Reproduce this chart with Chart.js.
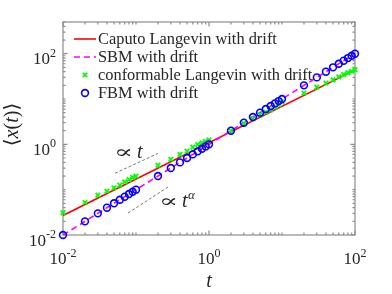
<!DOCTYPE html>
<html>
<head>
<meta charset="utf-8">
<script src="https://cdn.jsdelivr.net/npm/chart.js@4/dist/chart.umd.min.js"></script>
<style>
  html, body { margin: 0; padding: 0; background: #fff; }
</style>
</head>
<body>
<canvas id="chart" width="392" height="294"></canvas>
<script>
// values
const times = [0.01, 0.02, 0.03, 0.04, 0.05, 0.06, 0.07, 0.08, 0.09,
               0.1, 0.2, 0.3, 0.4, 0.5, 0.6, 0.7, 0.8, 0.9,
               1, 2, 3, 4, 5, 6, 7, 8, 9,
               10, 20, 30, 40, 50, 60, 70, 80, 90, 100];
const fbm = [0.01, 0.02, 0.03, 0.04, 0.05, 0.06, 0.07, 0.08, 0.09,
             0.1, 0.2, 0.3, 0.4, 0.5, 0.6, 0.7, 0.8, 0.9,
             1, 2, 3, 4, 5, 6, 7, 8, 9,
             10, 20, 30, 40, 50, 60, 70, 80, 90, 100];
const conformable = [0.031, 0.052, 0.076, 0.093, 0.110, 0.126, 0.148, 0.166, 0.186,
                     0.20, 0.347, 0.468, 0.603, 0.708, 0.87, 0.98, 1.07, 1.16,
                     1.25, 2.0, 2.9, 3.7, 4.5, 5.1, 5.8, 6.6, 7.4,
                     8.5, 13.5, 18.2, 22.4, 26.3, 30.9, 34.7, 38.0, 40.7, 44.7];
const caputoT = [0.01, 100];
const caputo = [0.027, 44];
const sbmT = [0.01, 100];
const sbm = [0.01, 100];
// short dashed guide lines
const guideUpperT = [0.0515, 0.2];
const guideUpper = [0.23, 0.63];
const guideLowerT = [0.0776, 0.274];
const guideLower = [0.0305, 0.114];

const labels = ['Caputo Langevin with drift', 'SBM with drift',
                'conformable Langevin with drift', 'FBM with drift'];
const xTicks = [0.01, 1, 100];
const xTickExp = ['-2', '0', '2'];
const yTicks = [0.01, 1, 100];
const yTickExp = ['-2', '0', '2'];

const pts = (xs, ys) => xs.map((v, i) => ({ x: v, y: ys[i] }));
const serif = '"Liberation Serif", "DejaVu Serif", serif';
const textColor = '#262626';

const frame = {
  id: 'frame',
  beforeDatasetsDraw(chart) {
    const { ctx, chartArea: a, scales: { x, y } } = chart;
    ctx.save();
    ctx.strokeStyle = '#8c8c8c';
    ctx.lineWidth = 1.2;
    ctx.strokeRect(a.left, a.top, a.right - a.left, a.bottom - a.top);
    ctx.beginPath();
    for (let e = -2; e <= 2; e++) {
      for (let m = 1; m < 10; m++) {
        const v = m * Math.pow(10, e);
        const len = (m === 1 && e % 2 === 0) ? 4.5 : 2.5;
        if (v <= 100) {
          const px = x.getPixelForValue(v);
          ctx.moveTo(px, a.bottom); ctx.lineTo(px, a.bottom - len);
          ctx.moveTo(px, a.top); ctx.lineTo(px, a.top + len);
        }
        if (v <= 500) {
          const py = y.getPixelForValue(v);
          ctx.moveTo(a.left, py); ctx.lineTo(a.left + len, py);
          ctx.moveTo(a.right, py); ctx.lineTo(a.right - len, py);
        }
      }
    }
    ctx.stroke();
    ctx.restore();
  },
  afterDraw(chart) {
    const { ctx, chartArea: a, scales: { x, y } } = chart;
    ctx.save();
    ctx.fillStyle = textColor;
    ctx.textBaseline = 'alphabetic';
    const base = '17px ' + serif, sup = '12px ' + serif;

    // tick labels 10^n
    xTicks.forEach((v, i) => {
      ctx.font = base; const bw = ctx.measureText('10').width;
      ctx.font = sup; const sw = ctx.measureText(xTickExp[i]).width;
      const x0 = x.getPixelForValue(v) - (bw + sw) / 2;
      ctx.font = base; ctx.fillText('10', x0, a.bottom + 29);
      ctx.font = sup; ctx.fillText(xTickExp[i], x0 + bw, a.bottom + 22);
    });
    yTicks.forEach((v, i) => {
      ctx.font = base; const bw = ctx.measureText('10').width;
      ctx.font = sup; const sw = ctx.measureText(yTickExp[i]).width;
      const py = y.getPixelForValue(v);
      const x0 = a.left - 7 - (bw + sw);
      ctx.font = base; ctx.fillText('10', x0, py + 10.5);
      ctx.font = sup; ctx.fillText(yTickExp[i], x0 + bw, py + 3);
    });

    // axis titles
    ctx.font = 'italic 20px ' + serif;
    ctx.textAlign = 'center';
    ctx.fillText('t', (a.left + a.right) / 2, 287);
    ctx.textAlign = 'left';
    const parts = [['\u27E8', false], ['x', true], ['(', false], ['t', true], [')', false], ['\u27E9', false]];
    const fontOf = it => (it ? 'italic ' : '') + '20px ' + serif;
    let total = 0;
    parts.forEach(p => { ctx.font = fontOf(p[1]); total += ctx.measureText(p[0]).width; });
    ctx.translate(13, (a.top + a.bottom) / 2 - 4);
    ctx.rotate(-Math.PI / 2);
    let cx = -total / 2;
    parts.forEach(p => { ctx.font = fontOf(p[1]); ctx.fillText(p[0], cx, 5); cx += ctx.measureText(p[0]).width; });
    ctx.setTransform(1, 0, 0, 1, 0, 0);

    // guide annotations
    const prop = '17px "DejaVu Serif", serif';
    const drawProp = (px, py) => {
      ctx.save();
      ctx.font = prop;
      ctx.translate(px, py);
      ctx.scale(1.65, 1.05);
      ctx.fillText('\u221D', 0, 0);
      const pw = ctx.measureText('\u221D').width * 1.65;
      ctx.restore();
      return pw;
    };
    const w = drawProp(114, 158) + 4;
    ctx.font = 'italic 20px ' + serif;
    ctx.fillText('t', 114 + w, 158);
    drawProp(159, 207);
    ctx.font = 'italic 20px ' + serif;
    ctx.fillText('t', 159 + w, 207);
    const tw = ctx.measureText('t').width;
    ctx.font = 'italic 13px ' + serif;
    ctx.fillText('\u03B1', 159 + w + tw + 0.5, 199);

    // legend
    const ds = chart.data.datasets;
    ctx.font = '16.4px ' + serif;
    ctx.textBaseline = 'middle';
    [0, 1, 2, 3].forEach(i => {
      const d = ds[i];
      const ry = 39 + i * 18;
      ctx.save();
      ctx.strokeStyle = d.borderColor;
      ctx.lineWidth = d.borderWidth;
      if (i < 2) {
        ctx.setLineDash(d.borderDash || []);
        ctx.beginPath(); ctx.moveTo(74, ry); ctx.lineTo(96, ry); ctx.stroke();
      } else if (i === 2) {
        const r = 2.2;
        ctx.beginPath();
        ctx.moveTo(85 - r, ry - r); ctx.lineTo(85 + r, ry + r);
        ctx.moveTo(85 - r, ry + r); ctx.lineTo(85 + r, ry - r);
        ctx.stroke();
      } else {
        ctx.beginPath(); ctx.arc(85, ry, d.pointRadius, 0, Math.PI * 2); ctx.stroke();
      }
      ctx.restore();
      ctx.fillStyle = textColor;
      ctx.fillText(d.label, 98, ry + 1);
    });
    ctx.restore();
  }
};

new Chart(document.getElementById('chart'), {
  type: 'scatter',
  data: {
    datasets: [
      { label: labels[0], data: pts(caputoT, caputo), showLine: true, pointRadius: 0,
        borderColor: '#ff0000', borderWidth: 1.6, order: 5 },
      { label: labels[1], data: pts(sbmT, sbm), showLine: true, pointRadius: 0,
        borderColor: '#ff00ff', borderWidth: 1.6, borderDash: [6, 4], order: 4 },
      { label: labels[2], data: pts(times, conformable), pointStyle: 'crossRot', pointRadius: 3.2,
        borderColor: '#00ff00', backgroundColor: '#00ff00', borderWidth: 1.8, clip: false, order: 2 },
      { label: labels[3], data: pts(times, fbm), pointStyle: 'circle', pointRadius: 3.4,
        borderColor: '#0000ff', backgroundColor: 'rgba(0,0,0,0)', borderWidth: 1.6, clip: false, order: 1 },
      { label: 'guide1', data: pts(guideUpperT, guideUpper), showLine: true, pointRadius: 0,
        borderColor: '#555555', borderWidth: 0.8, borderDash: [3, 2], order: 6 },
      { label: 'guide2', data: pts(guideLowerT, guideLower), showLine: true, pointRadius: 0,
        borderColor: '#555555', borderWidth: 0.8, borderDash: [3, 2], order: 6 }
    ]
  },
  options: {
    responsive: false,
    animation: false,
    devicePixelRatio: 1,
    layout: { padding: { left: 63, right: 37, top: 22, bottom: 59 } },
    scales: {
      x: { type: 'logarithmic', min: 0.01, max: 100, display: false },
      y: { type: 'logarithmic', min: 0.01, max: 500, display: false }
    },
    plugins: { legend: { display: false }, tooltip: { enabled: false } }
  },
  plugins: [frame]
});
</script>
</body>
</html>
